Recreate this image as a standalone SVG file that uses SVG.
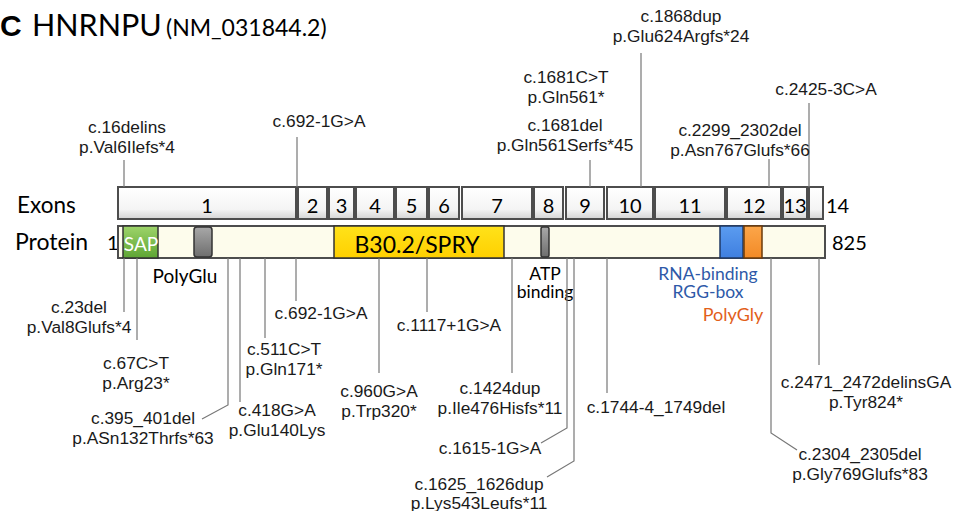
<svg xmlns="http://www.w3.org/2000/svg" width="965" height="511" viewBox="0 0 965 511">
<defs>
<linearGradient id="gEx" x1="0" y1="0" x2="0" y2="1"><stop offset="0" stop-color="#ffffff"/><stop offset="0.7" stop-color="#f4f4f4"/><stop offset="1" stop-color="#d4d4d4"/></linearGradient>
<linearGradient id="gSap" x1="0" y1="0" x2="0" y2="1"><stop offset="0" stop-color="#9ed46a"/><stop offset="1" stop-color="#5ea534"/></linearGradient>
<linearGradient id="gGray" x1="0" y1="0" x2="0" y2="1"><stop offset="0" stop-color="#a8a8a8"/><stop offset="1" stop-color="#6e6e6e"/></linearGradient>
<linearGradient id="gYel" x1="0" y1="0" x2="0" y2="1"><stop offset="0" stop-color="#ffe21a"/><stop offset="1" stop-color="#ffd000"/></linearGradient>
<linearGradient id="gBlue" x1="0" y1="0" x2="0" y2="1"><stop offset="0" stop-color="#5b9cf0"/><stop offset="1" stop-color="#3f7fe0"/></linearGradient>
<linearGradient id="gOr" x1="0" y1="0" x2="0" y2="1"><stop offset="0" stop-color="#fca64a"/><stop offset="1" stop-color="#f28a26"/></linearGradient>
</defs>
<style>
.cal{font-family:Lato,"Open Sans",sans-serif;fill:#000}
.ann{font-family:"Liberation Sans",Arial,sans-serif;font-size:16.5px;fill:#1a1a1a;text-anchor:middle}
.ex rect{fill:url(#gEx);stroke:#4d4d4d;stroke-width:2}
.exn{font-family:Lato,"Open Sans",sans-serif;font-size:20px;text-anchor:middle;fill:#000}
.ln{fill:none;stroke:#777;stroke-width:1.2}
.dom{stroke:#333;stroke-width:1.5}
</style>

<g id="title">
<text x="0" y="36" style="font-family:'Liberation Sans',Arial,sans-serif;font-weight:bold;font-size:30px">C</text>
<text x="32" y="36" class="cal" style="font-size:30.5px">HNRNPU</text>
<text x="166" y="36" class="cal" style="font-size:23px">(NM_031844.2)</text>
</g>

<g id="row-labels">
<text x="17" y="213" class="cal" style="font-size:22.5px">Exons</text>
<text x="15" y="250" class="cal" style="font-size:23px">Protein</text>
<text x="107" y="250" class="cal" style="font-size:20px">1</text>
<text x="832" y="250" class="cal" style="font-size:20px">825</text>
<text x="826" y="213" class="cal" style="font-size:20px">14</text>
</g>

<g id="exons" class="ex">
<rect x="118" y="187" width="178" height="32"/>
<rect x="298" y="187" width="29" height="32"/>
<rect x="329" y="187" width="25" height="32"/>
<rect x="356" y="187" width="38" height="32"/>
<rect x="396" y="187" width="31" height="32"/>
<rect x="429" y="187" width="30" height="32"/>
<rect x="462" y="187" width="70" height="32"/>
<rect x="534" y="187" width="29" height="32"/>
<rect x="566" y="187" width="38" height="32"/>
<rect x="607" y="187" width="46" height="32"/>
<rect x="655" y="187" width="70" height="32"/>
<rect x="727" y="187" width="54" height="32"/>
<rect x="783" y="187" width="24" height="32"/>
<rect x="809" y="187" width="14" height="32"/>
<text class="exn" x="207" y="213">1</text>
<text class="exn" x="312.5" y="213">2</text>
<text class="exn" x="341.5" y="213">3</text>
<text class="exn" x="375" y="213">4</text>
<text class="exn" x="411.5" y="213">5</text>
<text class="exn" x="444" y="213">6</text>
<text class="exn" x="497" y="213">7</text>
<text class="exn" x="548.5" y="213">8</text>
<text class="exn" x="585" y="213">9</text>
<text class="exn" x="630" y="213">10</text>
<text class="exn" x="690" y="213">11</text>
<text class="exn" x="754" y="213">12</text>
<text class="exn" x="795" y="213">13</text>
</g>

<g id="protein">
<rect x="118" y="226" width="707" height="32" fill="#fdfcec" stroke="#4d4d4d" stroke-width="2"/>
</g>
<g id="SAP">
<rect x="123" y="226" width="35" height="32" fill="url(#gSap)" class="dom"/>
<text x="141" y="251" class="cal" style="font-size:19px;fill:#fff;text-anchor:middle">SAP</text>
</g>
<g id="PolyGlu">
<rect x="194" y="227" width="18" height="30" rx="3" fill="url(#gGray)" class="dom"/>
<text x="185" y="283" class="cal" style="font-size:19px;text-anchor:middle">PolyGlu</text>
</g>
<g id="SPRY">
<rect x="334" y="226" width="170" height="32" fill="url(#gYel)" class="dom"/>
<text x="417" y="253" class="cal" style="font-size:23px;text-anchor:middle">B30.2/SPRY</text>
</g>
<g id="ATP">
<rect x="541" y="227" width="8" height="30" rx="2" fill="url(#gGray)" class="dom"/>
<text class="cal" style="font-size:17.5px;text-anchor:middle"><tspan x="545" y="280">ATP</tspan><tspan x="545" y="298">binding</tspan></text>
</g>
<g id="RGG">
<rect x="720" y="226" width="23" height="32" fill="url(#gBlue)" stroke="#1f3864" stroke-width="1.5"/>
<text class="cal" style="font-size:17.5px;text-anchor:middle;fill:#2e59a8"><tspan x="708" y="280">RNA-binding</tspan><tspan x="708" y="298">RGG-box</tspan></text>
</g>
<g id="PolyGly">
<rect x="744" y="226" width="18" height="32" fill="url(#gOr)" stroke="#6b3a0a" stroke-width="1.5"/>
<text x="733" y="321" class="cal" style="font-size:18px;text-anchor:middle;fill:#e2601a">PolyGly</text>
</g>

<g id="connectors" class="ln">
<path d="M124 160V187M297 137V187M590 160V187M641 53V187M809 103V187M769 159V187"/>
<path d="M124 258V312M137 258V340M228 258V405L202 419M240 258V402M265 258V338M296 258V301M379 258V373M427 258V312M512 258V373M567 258V428L541 443M574 258V461L547 477M607 258V393M771 258V433L797 450M819 258V365"/>
</g>

<g id="variants">
<text class="ann" transform="translate(127,133) scale(1.05,1)"><tspan x="0">c.16delins</tspan><tspan x="0" dy="20">p.Val6Ilefs*4</tspan></text>
<text class="ann" transform="translate(319,127) scale(1.05,1)">c.692-1G&gt;A</text>
<text class="ann" transform="translate(566,83) scale(1.05,1)"><tspan x="0">c.1681C&gt;T</tspan><tspan x="0" dy="20">p.Gln561*</tspan></text>
<text class="ann" transform="translate(565,131) scale(1.05,1)"><tspan x="0">c.1681del</tspan><tspan x="0" dy="20">p.Gln561Serfs*45</tspan></text>
<text class="ann" transform="translate(681,22) scale(1.05,1)"><tspan x="0">c.1868dup</tspan><tspan x="0" dy="20">p.Glu624Argfs*24</tspan></text>
<text class="ann" transform="translate(826,95) scale(1.05,1)">c.2425-3C&gt;A</text>
<text class="ann" transform="translate(740,136) scale(1.05,1)"><tspan x="0">c.2299_2302del</tspan><tspan x="0" dy="20">p.Asn767Glufs*66</tspan></text>

<text class="ann" transform="translate(79,313) scale(1.05,1)"><tspan x="0">c.23del</tspan><tspan x="0" dy="20">p.Val8Glufs*4</tspan></text>
<text class="ann" transform="translate(136,369) scale(1.05,1)"><tspan x="0">c.67C&gt;T</tspan><tspan x="0" dy="20">p.Arg23*</tspan></text>
<text class="ann" transform="translate(143,424) scale(1.05,1)"><tspan x="0">c.395_401del</tspan><tspan x="0" dy="20">p.ASn132Thrfs*63</tspan></text>
<text class="ann" transform="translate(277,416) scale(1.05,1)"><tspan x="0">c.418G&gt;A</tspan><tspan x="0" dy="20">p.Glu140Lys</tspan></text>
<text class="ann" transform="translate(284,355) scale(1.05,1)"><tspan x="0">c.511C&gt;T</tspan><tspan x="0" dy="20">p.Gln171*</tspan></text>
<text class="ann" transform="translate(321,319) scale(1.05,1)">c.692-1G&gt;A</text>
<text class="ann" transform="translate(379,397) scale(1.05,1)"><tspan x="0">c.960G&gt;A</tspan><tspan x="0" dy="20">p.Trp320*</tspan></text>
<text class="ann" transform="translate(449,331) scale(1.05,1)">c.1117+1G&gt;A</text>
<text class="ann" transform="translate(500,394) scale(1.05,1)"><tspan x="0">c.1424dup</tspan><tspan x="0" dy="20">p.Ile476Hisfs*11</tspan></text>
<text class="ann" transform="translate(490,454) scale(1.05,1)">c.1615-1G&gt;A</text>
<text class="ann" transform="translate(479,490) scale(1.05,1)"><tspan x="0">c.1625_1626dup</tspan><tspan x="0" dy="19">p.Lys543Leufs*11</tspan></text>
<text class="ann" transform="translate(656,413) scale(1.05,1)">c.1744-4_1749del</text>
<text class="ann" transform="translate(860,460) scale(1.05,1)"><tspan x="0">c.2304_2305del</tspan><tspan x="0" dy="20">p.Gly769Glufs*83</tspan></text>
<text class="ann" transform="translate(866,388) scale(1.05,1)"><tspan x="0">c.2471_2472delinsGA</tspan><tspan x="0" dy="20">p.Tyr824*</tspan></text>
</g>
</svg>
